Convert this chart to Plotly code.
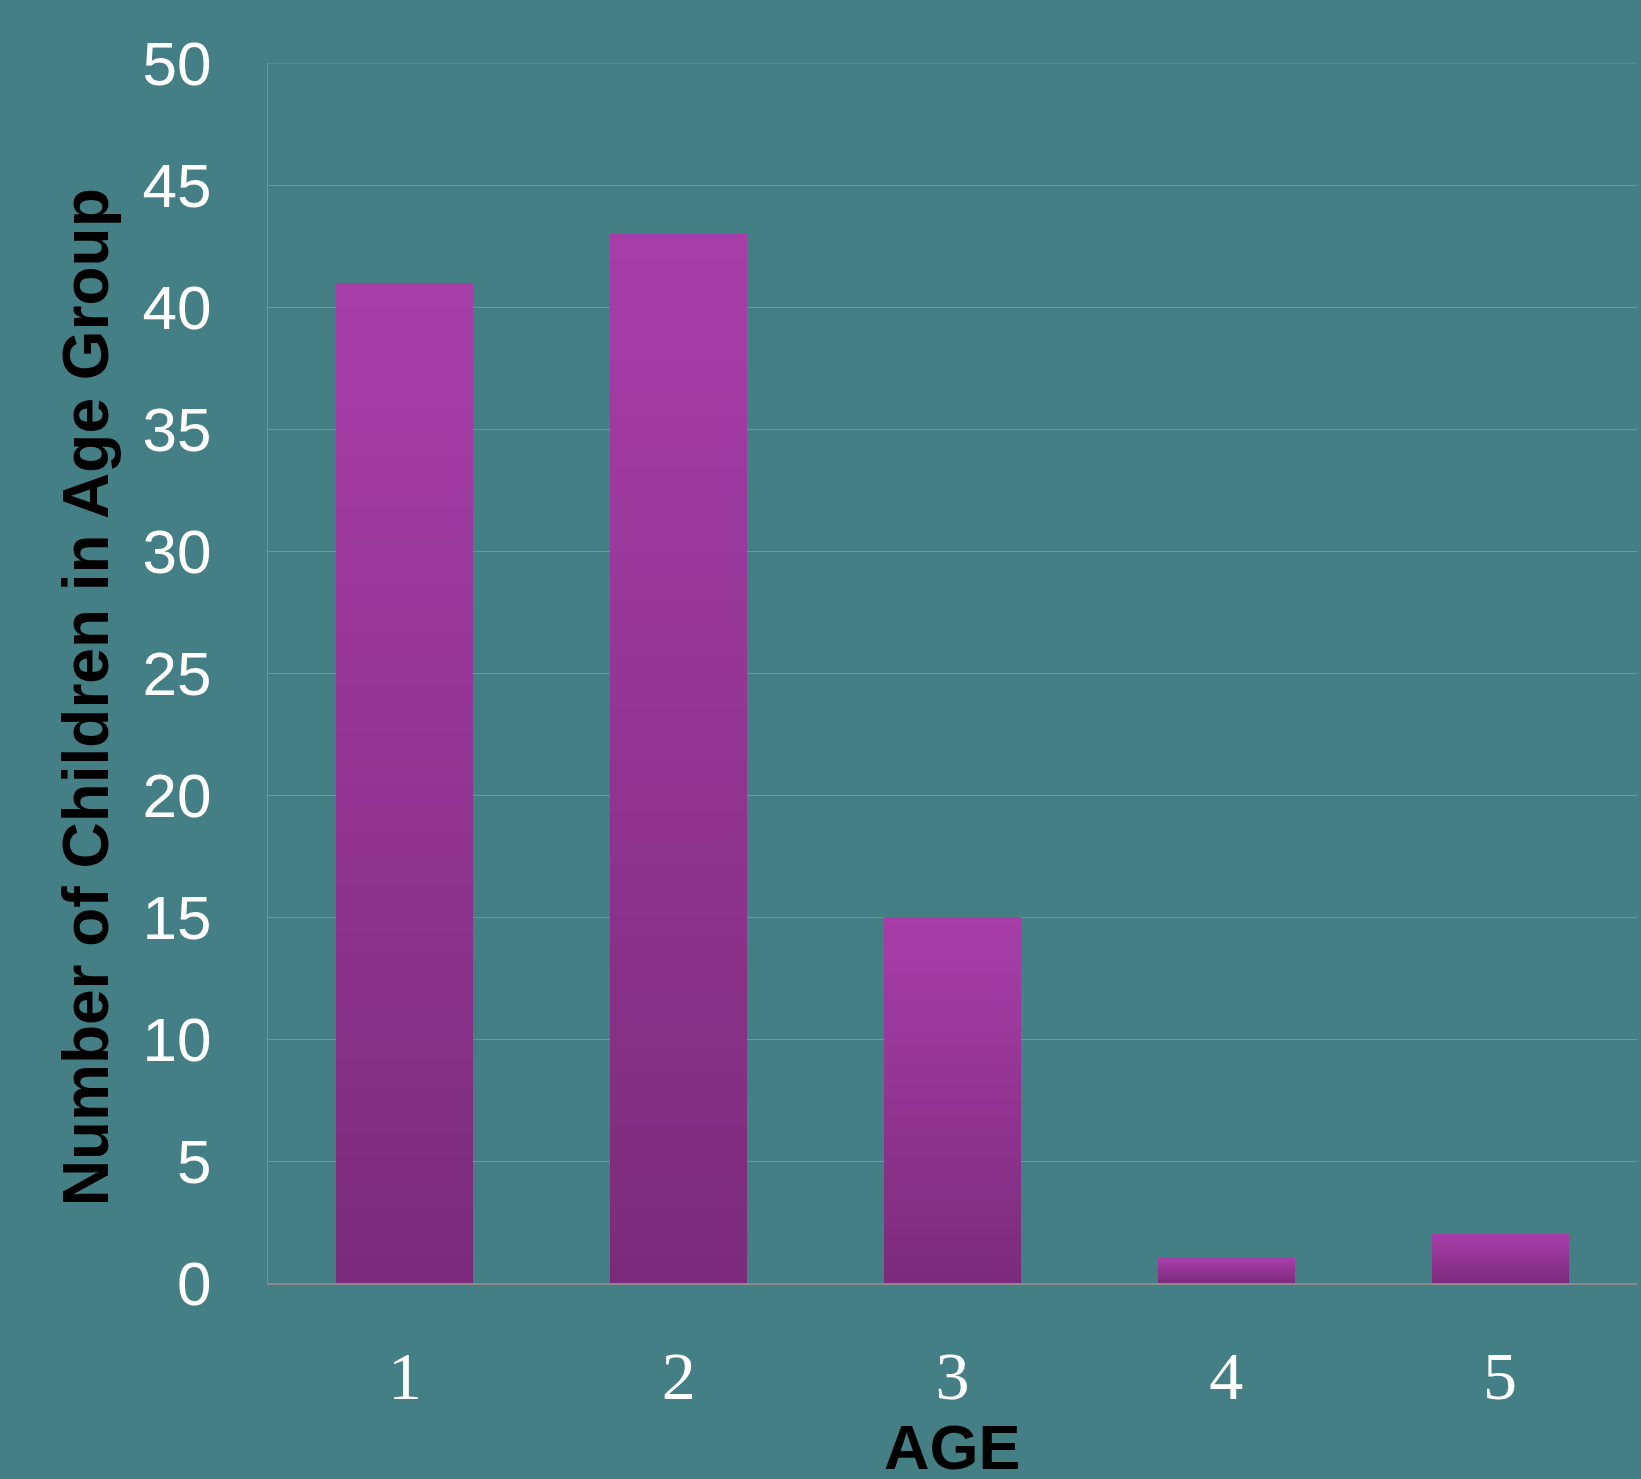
import plotly.graph_objects as go

ages = ["1", "2", "3", "4", "5"]
counts = [41, 43, 15, 1, 2]
y_ticks = [0, 5, 10, 15, 20, 25, 30, 35, 40, 45, 50]

BG = "#437f85"
GRID = "#8a8a8a"
TOP = (168, 62, 169)
BOTTOM = (123, 43, 123)
N_SEG = 40

fig = go.Figure()
for i in range(N_SEG):
    t = (i + 0.5) / N_SEG
    c = tuple(round(BOTTOM[k] + (TOP[k] - BOTTOM[k]) * t) for k in range(3))
    fig.add_trace(go.Bar(
        x=ages,
        y=[v / N_SEG for v in counts],
        marker=dict(color="rgb(%d,%d,%d)" % c, line=dict(width=0)),
        width=0.5,
        showlegend=False,
        hoverinfo="skip",
    ))

fig.update_layout(
    width=1641, height=1479,
    margin=dict(l=268, r=4, t=63, b=196),
    paper_bgcolor=BG, plot_bgcolor=BG,
    barmode="stack",
    xaxis=dict(
        type="category",
        showgrid=False,
        showline=True, linecolor=GRID, linewidth=1.5,
        ticks="",
        tickfont=dict(family="Liberation Serif", size=68, color="white"),
        ticklabelstandoff=33,
    ),
    yaxis=dict(
        range=[0, 50],
        tickvals=y_ticks,
        showgrid=True, gridcolor=GRID, gridwidth=1.2,
        showline=True, linecolor=GRID, linewidth=1.2,
        zeroline=False,
        ticks="",
        tickfont=dict(family="Liberation Sans", size=62, color="white"),
        ticklabelstandoff=43,
    ),
    annotations=[
        dict(text="<b>Number of Children in Age Group</b>", xref="paper", yref="paper",
             x=-0.133, y=0.48, xanchor="center", yanchor="middle", textangle=-90,
             showarrow=False, font=dict(family="Liberation Sans", size=64, color="black")),
        dict(text="<b>AGE</b>", xref="paper", yref="paper",
             x=0.5, y=0.0, yshift=-201, xanchor="center", yanchor="bottom",
             showarrow=False, font=dict(family="Liberation Sans", size=63, color="black")),
    ],
)

# top border line at 50
fig.add_shape(type="line", xref="paper", yref="y", x0=0, x1=1, y0=50, y1=50,
              line=dict(color=GRID, width=1.2), layer="below")

fig.write_html("out.html")
